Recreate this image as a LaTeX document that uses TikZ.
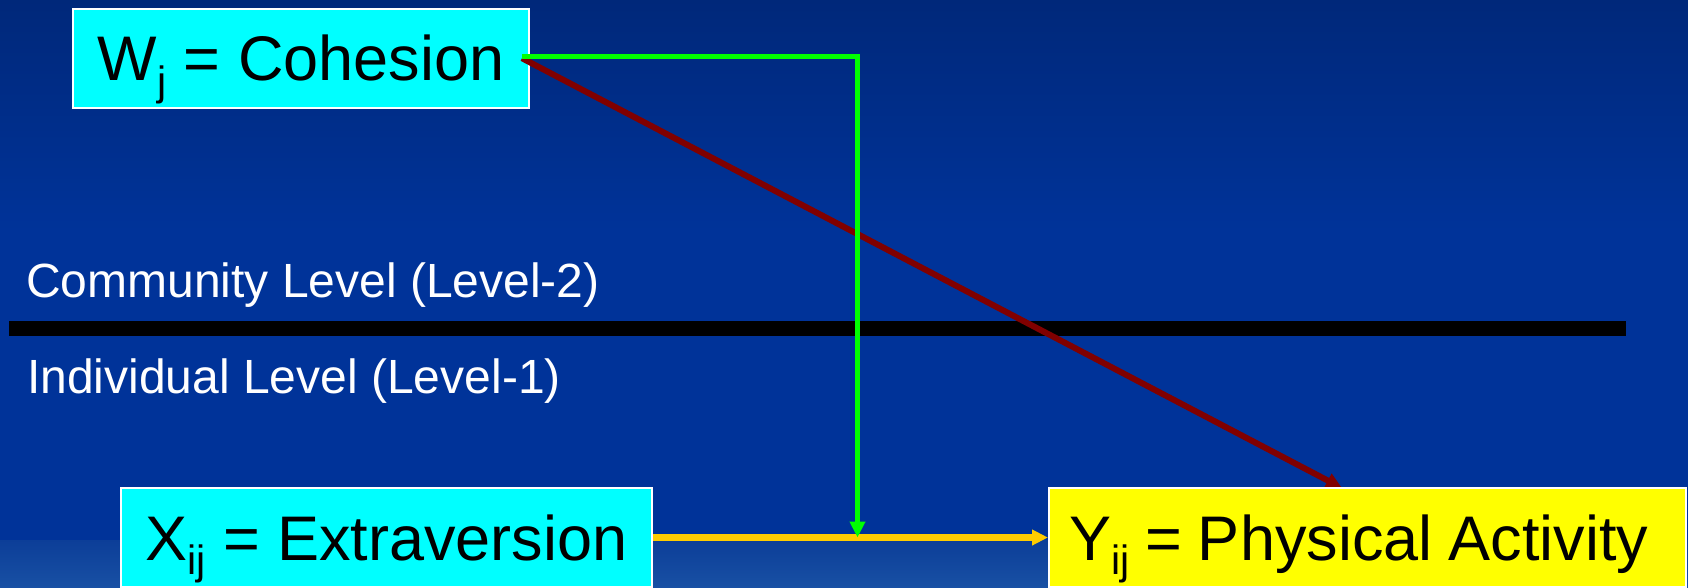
\documentclass[tikz,border=0pt]{standalone}
\usepackage{fontspec}
\setmainfont{Liberation Sans}
\usetikzlibrary{arrows.meta}
\definecolor{bgtop}{RGB}{0,40,122}
\definecolor{bgmid}{RGB}{0,51,153}
\definecolor{bgband}{RGB}{12,62,152}
\definecolor{bgbot}{RGB}{24,80,164}
\definecolor{boxcyan}{RGB}{0,255,255}
\definecolor{boxyellow}{RGB}{255,255,0}
\definecolor{lgreen}{RGB}{0,255,0}
\definecolor{lorange}{RGB}{255,204,0}
\definecolor{dred}{RGB}{128,0,0}
\newcommand{\varsub}[1]{\raisebox{-14.5pt}{\fontsize{41}{41}\selectfont #1}}
\begin{document}
\begin{tikzpicture}[x=1pt,y=-1pt,
  varbox/.style={draw=white, line width=2pt, inner sep=0pt, text height=45pt, text depth=0pt,
    font=\fontsize{63}{70}\selectfont, text=black, minimum height=99pt},
  leveltext/.style={text=white, font=\fontsize{48}{53}\selectfont, inner sep=0pt, anchor=base west},
  tip/.style={-{Triangle[length=16pt,width=15pt]}},
  redlink/.style={dred, line width=6pt, tip},
  greenlink/.style={lgreen, line width=5pt, tip},
  orangelink/.style={lorange, line width=6.5pt, tip}
]
\useasboundingbox (0,0) rectangle (1688,587);
% background
\shade[top color=bgtop, bottom color=bgmid] (0,0) rectangle (1688,231);
\fill[bgmid] (0,230) rectangle (1688,541);
\shade[top color=bgband, bottom color=bgbot] (0,540) rectangle (1688,587);
% level divider
\fill[black] (8.6,320.5) rectangle (1626,336);
\node[leveltext] (l2) at (26,297) {Community Level (Level-2)};
\node[leveltext] (l1) at (27,393) {Individual Level (Level-1)};
% boxes
\node[varbox, fill=boxcyan, minimum width=456pt] (W) at (301,58.2) {W\varsub{j} = Cohesion};
\node[varbox, fill=boxcyan, minimum width=531pt] (X) at (386.5,537.5) {X\varsub{ij} = Extraversion};
\coordinate (rtip) at (1342,488);
\draw[redlink] ([xshift=-8pt]W.east) -- (rtip);
\node[varbox, fill=boxyellow, minimum width=637pt, text width=597pt, align=left, inner xsep=20pt] (Y) at (1367.5,537.5) {\spaceskip=16pt Y\varsub{ij} = Physical Activity};
\draw[orangelink] (X.east) -- (Y.west);
\coordinate (gtip) at (857.5,537.5);
\draw[greenlink] ([xshift=-8pt,yshift=2pt]W.east) -| (gtip);
\end{tikzpicture}
\end{document}
